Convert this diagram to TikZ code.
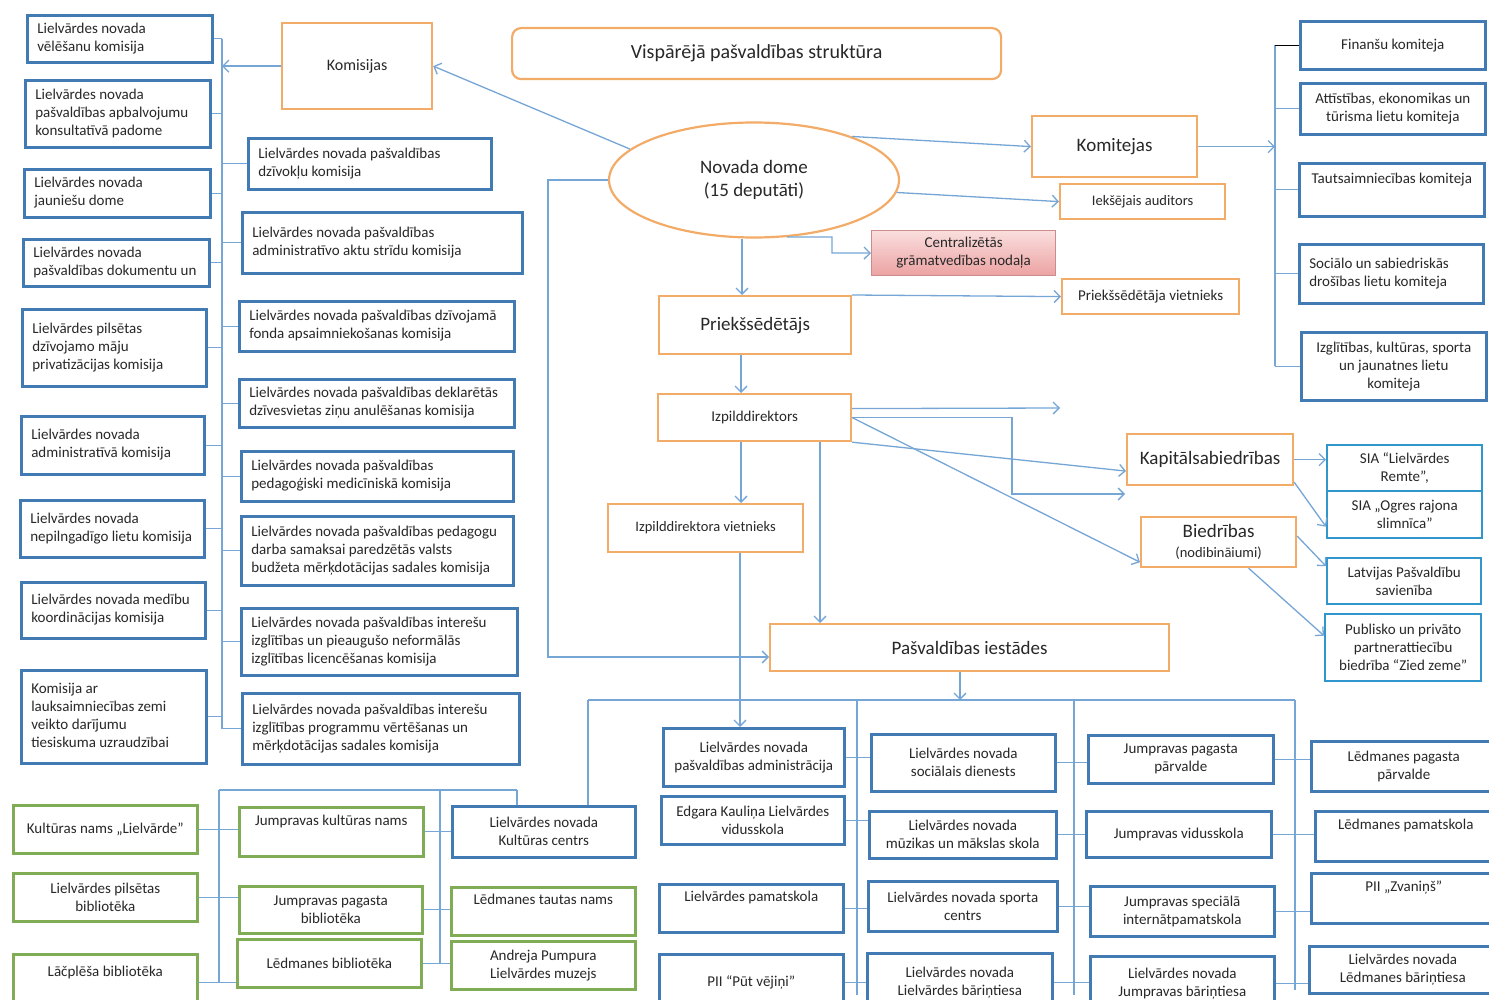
\documentclass[tikz,border=0pt]{standalone}
\usepackage{fontspec}
\setmainfont{Carlito}
\usetikzlibrary{shapes.geometric,arrows.meta}
\definecolor{orB}{RGB}{242,172,104}
\definecolor{blB}{RGB}{66,122,180}
\definecolor{cyB}{RGB}{48,150,204}
\definecolor{grB}{RGB}{128,172,86}
\definecolor{lnC}{RGB}{118,166,214}
\definecolor{pkA}{RGB}{250,222,222}
\definecolor{pkB}{RGB}{236,162,162}
\definecolor{pkD}{RGB}{205,140,140}
\definecolor{txC}{RGB}{40,40,40}
\newcommand\cbx[7]{\pgfmathsetmacro\bxw{#5-#3}\pgfmathsetmacro\bxh{#6-#4}%
  \node[#2,anchor=north west,minimum width=\bxw pt,minimum height=\bxh pt,align=center] (#1) at (#3,#4) {#7};}
\newcommand\lbx[7]{\pgfmathsetmacro\bxw{#5-#3}\pgfmathsetmacro\bxh{#6-#4}\pgfmathsetmacro\bxt{#5-#3-20}%
  \node[#2,anchor=north west,minimum width=\bxw pt,minimum height=\bxh pt] (#1) at (#3,#4) {\makebox[\bxt pt][l]{\begin{tabular}{@{}l@{}}#7\end{tabular}}};}
\begin{document}
\begin{tikzpicture}[x=1pt,y=-1pt,
 base/.style={inner sep=0pt,text=txC,font=\fontsize{15}{18}\selectfont},
 obox/.style={base,draw=orB,line width=2.2pt,fill=white},
 bbox/.style={base,draw=blB,line width=2.6pt,fill=white},
 cbox/.style={base,draw=cyB,line width=2.4pt,fill=white},
 gbox/.style={base,draw=grB,line width=2.6pt,fill=white},
 pbox/.style={base,draw=pkD,line width=1.2pt,top color=pkA,bottom color=pkB},
 f14/.style={font=\fontsize{14.5}{17}\selectfont},
 f16/.style={font=\fontsize{16}{19}\selectfont},
 f19/.style={font=\fontsize{19}{23}\selectfont},
 f20/.style={font=\fontsize{20}{24}\selectfont},
 con/.style={draw=lnC,line width=1.3pt},
 arr/.style={con,-{Straight Barb[length=6pt,width=12pt]}}]
\fill[white] (0,0) rectangle (1489,1000);
\useasboundingbox (0,0) rectangle (1489,1000);

% ---------- top / centre ----------
\cbx{title}{obox,f20,rounded corners=9pt}{511}{27}{1000}{78}{Vispārējā pašvaldības struktūra}
\cbx{kom}{obox,f16}{281}{22}{431}{108}{Komisijas}
\node[base,f19,ellipse,draw=orB,line width=2.2pt,fill=white,minimum width=290pt,minimum height=115pt,align=center] (dome) at (754,180) {Novada dome\\(15 deputāti)};
\cbx{komt}{obox,f19}{1031}{115}{1196}{176}{Komitejas}
\cbx{aud}{obox,f14}{1059}{183}{1224}{218}{Iekšējais auditors}
\cbx{cent}{pbox}{871}{230}{1055}{275}{Centralizētās\\grāmatvedības nodaļa}
\cbx{pv}{obox}{1061}{278}{1238}{313}{Priekšsēdētāja vietnieks}
\cbx{pr}{obox,f19}{658}{295}{850}{353}{Priekšsēdētājs}
\cbx{izp}{obox}{657}{393}{850}{440}{Izpilddirektors}
\cbx{iv}{obox,f14}{607}{503}{802}{551}{Izpilddirektora vietnieks}
\cbx{pasv}{obox,f19}{769}{623}{1168}{670}{Pašvaldības iestādes}
\cbx{kap}{obox,f19}{1126}{433}{1292}{484}{Kapitālsabiedrības}
\cbx{bied}{obox,f19}{1140}{516}{1295}{566}{Biedrības\\[-3pt]{\fontsize{14.5}{16}\selectfont(nodibināiumi)}}

% ---------- cyan ----------
\cbx{sia1}{cbox}{1326}{444}{1481}{490}{SIA “Lielvārdes\\Remte”,}
\cbx{sia2}{cbox}{1326}{490}{1481}{537}{SIA „Ogres rajona\\slimnīca”}
\cbx{latv}{cbox}{1326}{557}{1480}{603}{Latvijas Pašvaldību\\savienība}
\cbx{publ}{cbox}{1324}{613}{1480}{680}{Publisko un privāto\\partnerattiecību\\biedrība “Zied zeme”}

% ---------- committees ----------
\cbx{fin}{bbox}{1299}{20}{1484}{68}{Finanšu komiteja}
\cbx{att}{bbox}{1299}{82}{1484}{133}{Attīstības, ekonomikas un\\tūrisma lietu komiteja}
\cbx{tau}{bbox}{1298}{162}{1483}{215}{Tautsaimniecības komiteja\\\strut}
\lbx{soc}{bbox}{1298}{243}{1482}{302}{Sociālo un sabiedriskās\\drošības lietu komiteja}
\cbx{izg}{bbox}{1300}{331}{1485}{399}{Izglītības, kultūras, sporta\\un jaunatnes lietu\\komiteja}

% ---------- commissions ----------
\lbx{L1}{bbox}{26}{14}{211}{61}{Lielvārdes novada\\vēlēšanu komisija}
\lbx{L2}{bbox}{24}{79}{209}{146}{Lielvārdes novada\\pašvaldības apbalvojumu\\konsultatīvā padome}
\lbx{L3}{bbox}{23}{168}{209}{216}{Lielvārdes novada\\jauniešu dome}
\lbx{L4}{bbox}{22}{238}{208}{285}{Lielvārdes novada\\pašvaldības dokumentu un}
\lbx{L5}{bbox}{21}{308}{205}{385}{Lielvārdes pilsētas\\dzīvojamo māju\\privatizācijas komisija}
\lbx{L6}{bbox}{20}{415}{203}{473}{Lielvārdes novada\\administratīvā komisija}
\lbx{L7}{bbox}{19}{499}{203}{556}{Lielvārdes novada\\nepilngadīgo lietu komisija}
\lbx{L8}{bbox}{20}{581}{204}{637}{Lielvārdes novada medību\\koordinācijas komisija}
\lbx{L9}{bbox}{20}{669}{205}{762}{Komisija ar\\lauksaimniecības zemi\\veikto darījumu\\tiesiskuma uzraudzībai}
\lbx{R1}{bbox}{247}{137}{490}{188}{Lielvārdes novada pašvaldības\\dzīvokļu komisija}
\lbx{R2}{bbox}{241}{211}{521}{272}{Lielvārdes novada pašvaldības\\administratīvo aktu strīdu komisija}
\lbx{R3}{bbox}{238}{300}{513}{350}{Lielvārdes novada pašvaldības dzīvojamā\\fonda apsaimniekošanas komisija}
\lbx{R4}{bbox}{238}{378}{513}{426}{Lielvārdes novada pašvaldības deklarētās\\dzīvesvietas ziņu anulēšanas komisija}
\lbx{R5}{bbox}{240}{450}{512}{500}{Lielvārdes novada pašvaldības\\pedagoģiski medicīniskā komisija}
\lbx{R6}{bbox}{240}{515}{512}{584}{Lielvārdes novada pašvaldības pedagogu\\darba samaksai paredzētās valsts\\budžeta mērķdotācijas sadales komisija}
\lbx{R7}{bbox}{240}{607}{516}{674}{Lielvārdes novada pašvaldības interešu\\izglītības un pieaugušo neformālās\\izglītības licencēšanas komisija}
\lbx{R8}{bbox}{241}{692}{518}{763}{Lielvārdes novada pašvaldības interešu\\izglītības programmu vērtēšanas un\\mērķdotācijas sadales komisija}

% ---------- culture (green) ----------
\cbx{G1}{gbox}{12}{804}{196}{852}{Kultūras nams „Lielvārde”}
\cbx{G2}{gbox}{12}{872}{196}{920}{Lielvārdes pilsētas\\bibliotēka}
\cbx{G3}{gbox}{12}{953}{196}{1010}{Lāčplēša bibliotēka\\\strut}
\cbx{G4}{gbox}{238}{806}{422}{855}{Jumpravas kultūras nams\\\strut}
\cbx{G5}{gbox}{238}{885}{421}{932}{Jumpravas pagasta\\bibliotēka}
\cbx{G6}{gbox}{236}{938}{420}{986}{Lēdmanes bibliotēka}
\cbx{KC}{bbox}{451}{805}{634}{856}{Lielvārdes novada\\Kultūras centrs}
\cbx{G7}{gbox}{450}{886}{634}{934}{Lēdmanes tautas nams\\\strut}
\cbx{G8}{gbox}{450}{940}{634}{988}{Andreja Pumpura\\Lielvārdes muzejs}

% ---------- institutions ----------
\cbx{A1}{bbox}{662}{727}{843}{785}{Lielvārdes novada\\pašvaldības administrācija}
\cbx{A2}{bbox}{660}{795}{843}{843}{Edgara Kauliņa Lielvārdes\\vidusskola}
\cbx{A3}{bbox}{658}{883}{842}{931}{Lielvārdes pamatskola\\\strut}
\cbx{A4}{bbox}{658}{953}{842}{1010}{PII “Pūt vējiņi”}
\cbx{B1}{bbox}{870}{733}{1054}{790}{Lielvārdes novada\\sociālais dienests}
\cbx{B2}{bbox}{868}{810}{1055}{857}{Lielvārdes novada\\mūzikas un mākslas skola}
\cbx{B3}{bbox}{867}{880}{1056}{930}{Lielvārdes novada sporta\\centrs}
\cbx{B4}{bbox}{866}{952}{1051}{1010}{Lielvārdes novada\\Lielvārdes bāriņtiesa}
\cbx{C1}{bbox}{1087}{734}{1272}{782}{Jumpravas pagasta\\pārvalde}
\cbx{C2}{bbox}{1085}{810}{1270}{856}{Jumpravas vidusskola}
\cbx{C3}{bbox}{1089}{885}{1273}{935}{Jumpravas speciālā\\internātpamatskola}
\cbx{C4}{bbox}{1089}{955}{1273}{1010}{Lielvārdes novada\\Jumpravas bāriņtiesa}
\cbx{D1}{bbox}{1310}{740}{1495}{790}{Lēdmanes pagasta\\pārvalde}
\cbx{D2}{bbox}{1314}{810}{1495}{860}{Lēdmanes pamatskola\\\strut}
\cbx{D3}{bbox}{1310}{872}{1495}{922}{PII „Zvaniņš”\\\strut}
\cbx{D4}{bbox}{1308}{945}{1495}{992}{Lielvārdes novada\\Lēdmanes bāriņtiesa}

% ---------- helper coordinates ----------
\coordinate (tk) at (222,0);
\coordinate (ct) at (1275,0);
\coordinate (x741) at (741,0);
\coordinate (x742) at (742,0);
\coordinate (x740) at (740,0);
\coordinate (x820) at (820,0);
\coordinate (x960) at (960,0);
\coordinate (c548) at (548,657);
\coordinate (cel) at (832,253);
\coordinate (fa1) at (1060,408);
\coordinate (el) at (1012,494);
\coordinate (fa2) at (1125,494);
\coordinate (busL) at (588,700);
\coordinate (busM) at (960,700);
\coordinate (busR) at (1295,700);
\coordinate (v1t) at (857,700);
\coordinate (v1b) at (857,995);
\coordinate (v2t) at (1074,700);
\coordinate (v2b) at (1074,995);
\coordinate (v3b) at (1295,990);
\coordinate (gL) at (219,790);
\coordinate (gM) at (440,790);
\coordinate (gR) at (517,790);

% ---------- connectors: centre ----------
\draw[arr] (dome.166) -- (kom.east);
\draw[arr] (dome.24) -- (komt.west);
\draw[arr] (dome.355) -- (aud.west);
\draw[arr] (dome.300) -| (cel) -- (cent.west);
\draw[arr] (dome.south -| x742) -- (pr.north -| x742);
\draw[arr] (pr.north east) -- (pv.west);
\draw[arr] (pr.south -| x741) -- (izp.north -| x741);
\draw[arr] (dome.west) -| (c548) -- (pasv.west |- c548);
\draw[arr] ([yshift=9pt]izp.east) -- (fa1);
\draw[arr] (izp.east) -| (el) -- (fa2);
\draw[arr] (izp.south east) -- ([yshift=-11.5pt]kap.west);
\draw[arr] (izp.east) -- ([yshift=6pt]bied.south west);
\draw[arr] (izp.south -| x741) -- (iv.north -| x741);
\draw[arr] (izp.south -| x820) -- (pasv.north -| x820);
\draw[arr] (iv.south -| x740) -- (A1.north -| x740);
\draw[arr] (kap.east) -- (kap.east -| sia1.west);
\draw[arr] ([yshift=4pt]kap.south east) -- ([yshift=-12pt]sia2.west);
\draw[arr] ([yshift=6pt]bied.east) -- ([yshift=15pt]latv.west);
\draw[arr] ([xshift=30pt]bied.south) -- ([yshift=12pt]publ.west);

% ---------- committees ----------
\draw[arr] (komt.east) -- (komt.east -| ct);
\draw[con] (fin.west -| ct) -- (izg.west -| ct);
\draw[black,line width=1.3pt] (fin.west) -- (fin.west -| ct);
\foreach \n in {att,tau,soc,izg} \draw[con] (\n.west) -- (\n.west -| ct);

% ---------- commissions ----------
\draw[arr] (kom.west) -- (kom.west -| tk);
\draw[con] (L1.east -| tk) -- (R8.west -| tk);
\foreach \n in {L1,L2,L3,L4,L5,L6,L7,L8,L9} \draw[con] (\n.east) -- (\n.east -| tk);
\foreach \n in {R1,R2,R3,R4,R5,R6,R7,R8} \draw[con] (\n.west) -- (\n.west -| tk);

% ---------- institutions bus ----------
\draw[arr] (pasv.south -| x960) -- (busM);
\draw[con] (busL) -- (busR);
\draw[con] (busL) -- (KC.north -| busL);
\draw[con] (v1t) -- (v1b);
\draw[con] (v2t) -- (v2b);
\draw[con] (busR) -- (v3b);
\foreach \a/\b in {A1/B1,A2/B2,A3/B3,A4/B4,B1/C1,B2/C2,B3/C3,B4/C4,C1/D1,C2/D2,C3/D3,C4/D4}
  \draw[con] (\a.east) -- (\a.east -| \b.west);

% ---------- culture bus ----------
\draw[con] (gL) -- (gR);
\draw[con] (gR) -- (KC.north -| gR);
\draw[con] (gL) -- (G3.east -| gL);
\draw[con] (gM) -- (G6.east -| gM);
\foreach \a/\b in {G1/G4,G2/G5,G3/G6,G4/KC,G5/G7,G6/G8}
  \draw[con] (\a.east) -- (\a.east -| \b.west);
\end{tikzpicture}
\end{document}
